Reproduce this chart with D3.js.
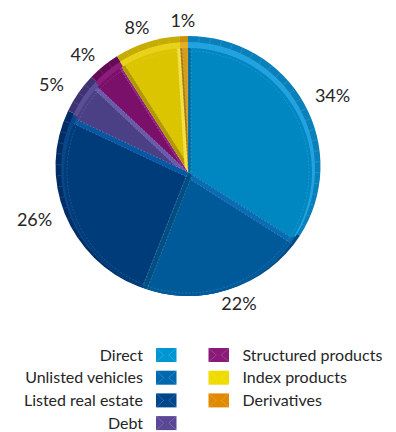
<!DOCTYPE html>
<html>
<head>
<meta charset="utf-8">
<script src="https://cdn.jsdelivr.net/npm/d3@7"></script>
<style>
  html, body { margin: 0; padding: 0; background: #fff; }
  svg { display: block; }
  text { font-family: Lato, "Open Sans", sans-serif; font-weight: 400; fill: #262626; }
</style>
</head>
<body>
<svg id="chart" width="396" height="432"></svg>
<script>
// Portfolio split by instrument type (shares in %)
const categories = ["Direct", "Unlisted vehicles", "Listed real estate", "Debt",
                    "Structured products", "Index products", "Derivatives"];
const shares = [34, 22, 26, 5, 4, 8, 1];

// Colour per category: top face, outer wall, wall highlight, legend swatch
const faceColors   = ["#0086c0", "#005a99", "#003c79", "#4b3f86", "#7b106a", "#dbc400", "#d49c18"];
const wallColors   = ["#0a80ba", "#004a84", "#002d66", "#3e3274", "#640a57", "#c4ac00", "#c8900c"];
const rimColors    = ["#22a3df", "#0a64a6", "#0a4788", "#5b4d96", "#8c1c7a", "#e8d21a", "#e6ae26"];
const legendColors = ["#0096d3", "#0068ae", "#00468b", "#5a4896", "#8a1a78", "#efdb00", "#e08a00"];

// Bevel strips along radial edges: [start edge, end edge]
const strips = [
  [{c: "#006b9e", w: 3}, null],
  [{c: "#0a6cb3", w: 5}, {c: "#004e82", w: 5}],
  [null, {c: "#0757a4", w: 5}],
  [null, {c: "#6a5aab", w: 4}],
  [null, {c: "#931f82", w: 2}],
  [{c: "#b09800", w: 4}, {c: "#f2e040", w: 3}],
  [{c: "#a87c10", w: 2}, null]
];

const svg = d3.select("#chart");

const cx = 188, cy = 172;
const faceR = 124, rimR = 127, wallR = 132.5;

const pie = d3.pie().sort(null).value(d => d)(shares);

const wallArc = d3.arc().innerRadius(0).outerRadius(wallR);
const rimArc  = d3.arc().innerRadius(0).outerRadius(rimR);
const faceArc = d3.arc().innerRadius(0).outerRadius(faceR);

// Outer wall (seen above the top face)
const wall = svg.append("g").attr("transform", `translate(${cx},${cy - 6}) scale(1,0.981)`);
wall.selectAll("path").data(pie).join("path")
  .attr("d", wallArc)
  .attr("fill", (d, i) => wallColors[i]);

// Segment lines on the wall
const ticks = [];
pie.forEach(p => {
  const n = Math.max(1, Math.round((p.endAngle - p.startAngle) / 0.085));
  for (let k = 1; k < n; k++) ticks.push(p.startAngle + (p.endAngle - p.startAngle) * k / n);
});
wall.selectAll("line.tick").data(ticks).join("line")
  .attr("class", "tick")
  .attr("x1", a => Math.sin(a) * (faceR - 4))
  .attr("y1", a => -Math.cos(a) * (faceR - 4))
  .attr("x2", a => Math.sin(a) * (wallR - 1))
  .attr("y2", a => -Math.cos(a) * (wallR - 1))
  .attr("stroke", "rgba(255,255,255,0.17)")
  .attr("stroke-width", 0.7);

// Lighter inner rim
const rim = svg.append("g").attr("transform", `translate(${cx},${cy - 3})`);
rim.selectAll("path").data(pie).join("path")
  .attr("d", rimArc)
  .attr("fill", (d, i) => rimColors[i]);

// Top faces
const face = svg.append("g").attr("transform", `translate(${cx},${cy})`);
const defs = svg.append("defs");
pie.forEach((p, i) => {
  defs.append("clipPath").attr("id", "clip" + i)
    .append("path").attr("d", faceArc(p));
});

face.selectAll("path.face").data(pie).join("path")
  .attr("class", "face")
  .attr("d", faceArc)
  .attr("fill", (d, i) => faceColors[i]);

// Bevel strips, clipped to their own slice
pie.forEach((p, i) => {
  const g = face.append("g").attr("clip-path", `url(#clip${i})`);
  [[p.startAngle, 1, strips[i][0]], [p.endAngle, -1, strips[i][1]]].forEach(([a, sgn, s]) => {
    if (!s) return;
    const ux = Math.sin(a), uy = -Math.cos(a);
    const nx = Math.cos(a) * sgn, ny = Math.sin(a) * sgn;
    const L = faceR + 4;
    const pts = [[0, 0], [ux * L, uy * L], [ux * L + nx * s.w, uy * L + ny * s.w], [nx * s.w, ny * s.w]];
    g.append("path").attr("d", d3.line()(pts)).attr("fill", s.c);
    g.append("line")
      .attr("x1", nx * s.w).attr("y1", ny * s.w)
      .attr("x2", ux * L + nx * s.w).attr("y2", uy * L + ny * s.w)
      .attr("stroke", "rgba(255,255,255,0.3)")
      .attr("stroke-width", 0.6)
      .attr("stroke-dasharray", "2 1.5");
  });
});

// Dashed highlight along face edges
const innerArc = d3.arc().innerRadius(0).outerRadius(faceR - 3);
face.selectAll("path.hl").data(pie).join("path")
  .attr("class", "hl")
  .attr("d", innerArc)
  .attr("fill", "none")
  .attr("stroke", "rgba(255,255,255,0.22)")
  .attr("stroke-width", 0.6)
  .attr("stroke-dasharray", "2 1.5");

// Percentage labels
const lcx = 188, lcy = 166, lrx = 165, lry = 145;
svg.append("g").selectAll("text").data(pie).join("text")
  .attr("x", d => lcx + Math.sin((d.startAngle + d.endAngle) / 2) * lrx)
  .attr("y", d => lcy - Math.cos((d.startAngle + d.endAngle) / 2) * lry)
  .attr("dy", "0.35em")
  .attr("text-anchor", "middle")
  .style("font-size", "18px")
  .text(d => d.value + "%");

// Legend in two columns
const rowH = 22.7, legendTop = 348;
const swW = 20.5, swH = 14;
const legendItems = categories.map((c, i) => ({
  name: c, color: legendColors[i],
  col: i < 4 ? 0 : 1, row: i < 4 ? i : i - 4
}));
const lg = svg.append("g");
const item = lg.selectAll("g").data(legendItems).join("g")
  .attr("transform", d => `translate(${d.col === 0 ? 156 : 208.5},${legendTop + d.row * rowH})`);
item.append("rect")
  .attr("width", swW).attr("height", swH)
  .attr("fill", d => d.color);
item.append("path")
  .attr("d", `M0,0L${swW * 0.38},${swH / 2}L0,${swH}M${swW},0L${swW * 0.62},${swH / 2}L${swW},${swH}`)
  .attr("fill", "none")
  .attr("stroke", "rgba(255,255,255,0.22)")
  .attr("stroke-width", 0.8);
item.append("text")
  .attr("x", d => d.col === 0 ? -13 : swW + 13.5)
  .attr("y", 12.7)
  .attr("text-anchor", d => d.col === 0 ? "end" : "start")
  .style("font-size", "16px")
  .text(d => d.name);
</script>
</body>
</html>
